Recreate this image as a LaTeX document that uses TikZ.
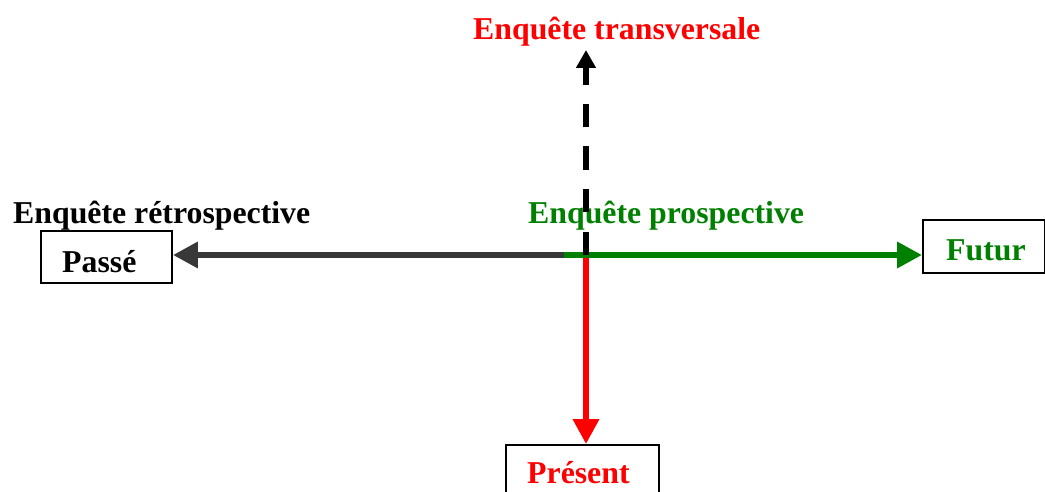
\documentclass[tikz,border=0pt]{standalone}
\usepackage{fontspec}
\setmainfont{Liberation Serif}
\usetikzlibrary{arrows.meta}
\definecolor{dgray}{RGB}{56,56,56}
\definecolor{dgreen}{RGB}{0,128,0}
\begin{document}
\begin{tikzpicture}[x=1pt,y=-1pt,
  lbl/.style={inner sep=0pt, anchor=base west, font=\fontsize{31.8}{37}\selectfont\bfseries},
  tbox/.style={draw=black, line width=1.8pt, inner sep=0pt},
  axis/.style={line width=6.5pt, -{Triangle[length=25pt,width=25pt]}},
  dashaxis/.style={line width=6pt, dash pattern=on 23.5pt off 19pt, -{Triangle[length=18pt,width=19pt]}}]
\useasboundingbox (0,0) rectangle (1045,492);
% boxes
\node[tbox, minimum width=131pt, minimum height=52pt] (passe) at (106.5,257) {};
\node[tbox, minimum width=122pt, minimum height=53pt] (futur) at (984,246.5) {};
\node[tbox, minimum width=153pt, minimum height=54pt] (present) at (582.5,472) {};
% box texts
\node[lbl] (passeT) at (62,272.5) {Passé};
\node[lbl, text=dgreen] (futurT) at (946,260) {Futur};
\node[lbl, text=red] (presentT) at (527,483.5) {Présent};
% labels
\node[lbl, text=red] (transv) at (473,39.5) {Enquête transversale};
\node[lbl] (retro) at (13,223.5) {Enquête rétrospective};
\node[lbl, text=dgreen] (prosp) at (528,223.5) {Enquête prospective};
% connectors
\coordinate (o) at (586,255);
\coordinate (os) at (564,255);
\coordinate (top) at (586,50);
\draw[axis, red] (o) -- (o |- present.north);
\draw[axis, dgray] (os) -- (passe.east |- os);
\draw[axis, dgreen] (os) -- (futur.west |- os);
\draw[dashaxis, black] (o) -- (top);
\end{tikzpicture}
\end{document}
